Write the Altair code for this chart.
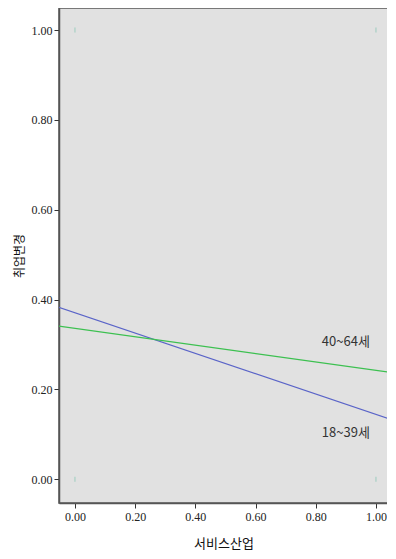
import altair as alt
import pandas as pd

# fit lines (read at axis extremes)
line_x = [-0.055, 1.055]
young_y = [0.383, 0.132]
old_y = [0.341, 0.237]
groups = ["18~39세", "40~64세"]

# observed points
pt_x = [0, 0, 1, 1]
pt_y = [0, 1, 0, 1]

# labels
lab_text = ["40~64세", "18~39세"]
lab_x = [0.90, 0.90]
lab_y = [0.305, 0.102]

x_ticks = [0, 0.2, 0.4, 0.6, 0.8, 1.0]
y_ticks = [0, 0.2, 0.4, 0.6, 0.8, 1.0]

lines = pd.DataFrame({
    "x": line_x + line_x,
    "y": young_y + old_y,
    "g": [groups[0]] * 2 + [groups[1]] * 2,
})
pts = pd.DataFrame({"x": pt_x, "y": pt_y})
labs = pd.DataFrame({"x": lab_x, "y": lab_y, "t": lab_text})

xs = alt.Scale(domain=[-0.053, 1.040], nice=False, zero=False)
ys = alt.Scale(domain=[-0.053, 1.049], nice=False, zero=False)

num_font = "Liberation Sans Narrow"
kr_font = "Noto Sans CJK KR"

xax = alt.Axis(values=x_ticks, format=".2f", title="서비스산업", grid=False,
               domainColor="#555555", domainWidth=1.5, tickColor="#333333", tickSize=5,
               labelFont=num_font, labelFontSize=12, labelColor="#222222",
               titleFont=kr_font, titleFontSize=13, titleFontWeight="normal",
               titleColor="#111111", titlePadding=15, labelPadding=3)
yax = alt.Axis(values=y_ticks, format=".2f", title="취업변경", grid=False,
               domainColor="#555555", domainWidth=1.5, tickColor="#333333", tickSize=5,
               labelFont=num_font, labelFontSize=12, labelColor="#222222",
               titleFont=kr_font, titleFontSize=12, titleFontWeight="normal",
               titleColor="#111111", titlePadding=5, labelPadding=2)

line_chart = alt.Chart(lines).mark_line(strokeWidth=1.2, clip=True).encode(
    x=alt.X("x:Q", scale=xs, axis=xax),
    y=alt.Y("y:Q", scale=ys, axis=yax),
    color=alt.Color("g:N", scale=alt.Scale(domain=groups, range=["#5a64c8", "#3cc050"]), legend=None),
    detail="g:N",
)

pt_chart = alt.Chart(pts).mark_tick(orient="vertical", size=5, thickness=1, color="#7fc4b0").encode(
    x=alt.X("x:Q", scale=xs),
    y=alt.Y("y:Q", scale=ys),
)

lab_chart = alt.Chart(labs).mark_text(font=num_font + ", " + kr_font, fontSize=13, color="#333333").encode(
    x=alt.X("x:Q", scale=xs),
    y=alt.Y("y:Q", scale=ys),
    text="t:N",
)

chart = alt.layer(line_chart, pt_chart, lab_chart).properties(
    width=329, height=495,
    autosize=alt.AutoSizeParams(type="none"),
    padding={"left": 51, "top": 0, "right": -1, "bottom": 48},
    background="white",
).configure_view(fill="#e1e1e1", stroke="#555555", strokeWidth=1.5)

chart.save("out.html", embed_options={"renderer": "svg", "actions": False})
